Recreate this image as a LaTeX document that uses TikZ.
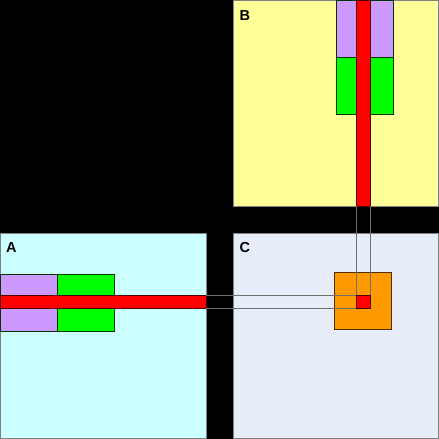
\documentclass[tikz,border=0pt]{standalone}
\usepackage{fontspec}
\setmainfont{Liberation Sans}
\definecolor{paleA}{HTML}{CCFFFF}
\definecolor{paleB}{HTML}{FFFF99}
\definecolor{paleC}{HTML}{E6ECF8}
\definecolor{lilac}{HTML}{CC99FF}
\definecolor{lime}{HTML}{00FF00}
\definecolor{amber}{HTML}{FF9900}
\definecolor{wire}{HTML}{707070}
\pgfdeclarelayer{back}
\pgfdeclarelayer{mid}
\pgfsetlayers{back,mid,main}
\tikzset{
  blk/.style={inner sep=0, outer sep=0, anchor=north west, line width=1pt},
  mat/.style={blk, draw=gray, fill=#1},
  part/.style={blk, draw=black!80!green, fill=#1},
  hot/.style={blk, draw=black!70!red, fill=red},
  tag/.style={inner sep=0, anchor=base west, font=\bfseries\fontsize{14.5}{17}\selectfont},
}
\begin{document}
\begin{tikzpicture}[x=1pt,y=-1pt]
  \begin{pgfonlayer}{back}
  \fill[black] (0,0) rectangle (439,439);

  % the three matrices
  \node [mat=paleA, minimum width=205.5pt, minimum height=205pt](matA) at (0.5,233) {};
  \node [mat=paleB, minimum width=205pt, minimum height=205.5pt](matB) at (233,0.5) {};
  \node [mat=paleC, minimum width=205pt, minimum height=205pt](matC) at (233,233) {};

  \node [tag](labA) at (6,252.3) {A};
  \node [tag](labB) at (239.5,20) {B};
  \node [tag](labC) at (239.5,252.3) {C};

  % blocks of A
  \node [part=lilac, minimum width=56.5pt, minimum height=57pt](a1) at (0.5,274) {};
  \node [part=lime, minimum width=57pt, minimum height=57pt](a2) at (57,274) {};
  % blocks of B
  \node [part=lilac, minimum width=57pt, minimum height=56.5pt](b1) at (336,0.5) {};
  \node [part=lime, minimum width=57pt, minimum height=57pt](b2) at (336,57) {};
  % block of C
  \node [part=amber, draw=black!70!amber, minimum width=57pt, minimum height=57pt](c1) at (334,272) {};

  % row of A, column of B
  \node [hot, minimum width=205.5pt, minimum height=13.5pt](rowA) at (0.5,295) {};
  \node [hot, minimum width=14pt, minimum height=205.5pt](colB) at (356,0.5) {};
  \end{pgfonlayer}

  % one entry of C
  \node [hot, minimum width=14pt, minimum height=13.5pt](cellC) at (356,295) {};

  \begin{pgfonlayer}{mid}
  \draw [wire, line width=1pt]
    (rowA.north east) -- (cellC.north west)
    (rowA.south east) -- (cellC.south west)
    (colB.south west) -- (cellC.north west)
    (colB.south east) -- (cellC.north east);
  \end{pgfonlayer}
  \useasboundingbox (0,0) rectangle (439,439);
\end{tikzpicture}
\end{document}
